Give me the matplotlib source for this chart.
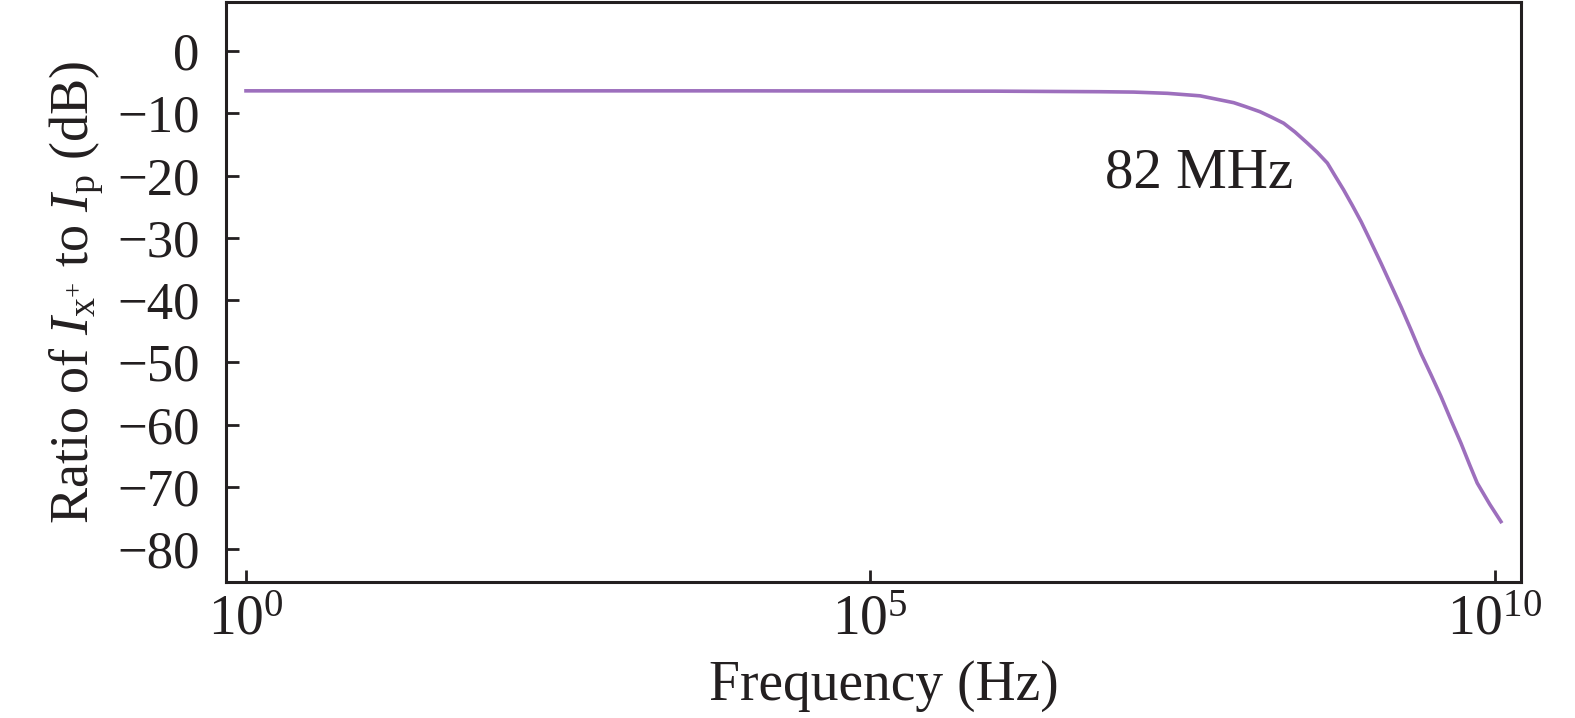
import matplotlib
matplotlib.use("Agg")
import matplotlib.pyplot as plt
import numpy as np

plt.rcParams['font.family'] = ['Liberation Serif', 'DejaVu Serif']
plt.rcParams['mathtext.fontset'] = 'custom'
plt.rcParams['mathtext.rm'] = 'Liberation Serif'
plt.rcParams['mathtext.it'] = 'Liberation Serif:italic'

# values (log10 of frequency, ratio in dB)
log_freq = [0.0, 2.0, 4.0, 6.0, 6.84, 7.11, 7.38, 7.64, 7.91, 8.0, 8.12, 8.21,
            8.31, 8.40, 8.50, 8.58, 8.66, 8.72, 8.79, 8.86, 8.93, 9.0, 9.09, 9.17,
            9.25, 9.33, 9.41, 9.49, 9.57, 9.65, 9.73, 9.80, 9.86, 9.96, 10.05]
ratio_db = [-6.4, -6.4, -6.4, -6.45, -6.54, -6.6, -6.8, -7.2, -8.3, -8.9, -9.75, -10.6,
            -11.6, -13.0, -14.8, -16.3, -18.0, -20.0, -22.3, -24.8, -27.4, -30.3, -34.1, -37.6,
            -41.1, -44.8, -48.6, -52.0, -55.5, -59.3, -63.0, -66.5, -69.4, -72.8, -75.6]
y_ticks = [0, -10, -20, -30, -40, -50, -60, -70, -80]
x_ticks = [1e0, 1e5, 1e10]
x_tick_labels = [r'$10^{0}$', r'$10^{5}$', r'$10^{10}$']

freq = 10.0 ** np.array(log_freq)

fig = plt.figure(figsize=(15.75, 7.18), dpi=100)
ax = fig.add_axes([0.1435, 0.1894, 0.822, 0.8078])

ax.plot(freq, ratio_db, color='#9d6fbd', lw=2.6)
ax.set_xscale('log')
ax.set_xlim(10 ** -0.16, 10 ** 10.208)
ax.set_ylim(-85.3, 7.87)

ax.set_xticks(x_ticks)
ax.set_xticklabels(x_tick_labels)
ax.minorticks_off()
ax.set_yticks(y_ticks)
ax.set_yticklabels(['0' if v == 0 else '\u2212' + str(-v) for v in y_ticks])

ax.tick_params(direction='in', length=9, width=2, color='#231f20',
               labelcolor='#231f20', top=False, right=False)
ax.tick_params(axis='y', pad=19, labelsize=38)
ax.tick_params(axis='x', pad=9, labelsize=40)
for s in ax.spines.values():
    s.set_linewidth(2.2)
    s.set_color('#231f20')

ax.set_xlabel('Frequency (Hz)', fontsize=40, color='#231f20', labelpad=10)
ax.xaxis.label.set_x(0.5085)
ax.set_ylabel(r'Ratio of $\mathit{I}_{\mathrm{x}^{+}}$ to $\mathit{I}_{\mathrm{p}}$ (dB)',
              fontsize=39, color='#231f20', labelpad=8)

ax.text(10 ** 6.88, -22.0, '82 MHz', fontsize=41, color='#231f20', ha='left', va='baseline')

fig.savefig('out.png', dpi=100)
